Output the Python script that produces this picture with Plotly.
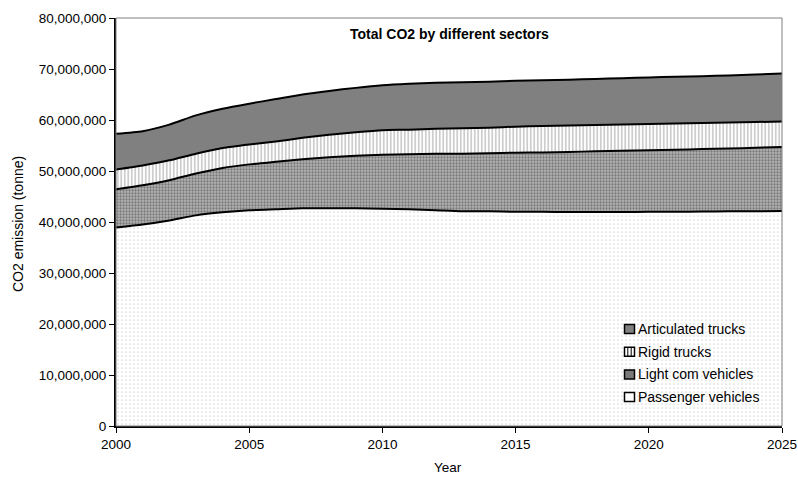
import plotly.graph_objects as go

# Annual CO2 emissions by road-transport sector (tonnes)
years = list(range(2000, 2026))

passenger_vehicles = [
    38_900_000, 39_500_000, 40_300_000, 41_300_000, 41_900_000, 42_300_000,
    42_500_000, 42_700_000, 42_700_000, 42_700_000, 42_600_000, 42_500_000,
    42_300_000, 42_100_000, 42_100_000, 42_000_000, 42_000_000, 41_950_000,
    41_950_000, 41_950_000, 42_000_000, 42_000_000, 42_050_000, 42_100_000,
    42_100_000, 42_150_000,
]
light_com_vehicles = [
    7_500_000, 7_700_000, 7_900_000, 8_200_000, 8_700_000, 9_000_000,
    9_300_000, 9_600_000, 10_000_000, 10_300_000, 10_600_000, 10_800_000,
    11_100_000, 11_300_000, 11_400_000, 11_600_000, 11_650_000, 11_800_000,
    11_900_000, 12_000_000, 12_050_000, 12_150_000, 12_250_000, 12_300_000,
    12_450_000, 12_550_000,
]
rigid_trucks = [
    3_900_000, 3_900_000, 3_900_000, 3_900_000, 3_900_000, 3_900_000,
    4_000_000, 4_200_000, 4_400_000, 4_600_000, 4_800_000, 4_800_000,
    4_900_000, 5_000_000, 5_000_000, 5_100_000, 5_150_000, 5_150_000,
    5_150_000, 5_150_000, 5_150_000, 5_150_000, 5_100_000, 5_100_000,
    5_050_000, 5_000_000,
]
articulated_trucks = [
    7_000_000, 6_700_000, 7_000_000, 7_500_000, 7_700_000, 8_000_000,
    8_300_000, 8_500_000, 8_600_000, 8_700_000, 8_800_000, 9_000_000,
    9_000_000, 9_000_000, 9_000_000, 9_000_000, 9_000_000, 9_000_000,
    9_050_000, 9_100_000, 9_150_000, 9_200_000, 9_200_000, 9_250_000,
    9_300_000, 9_400_000,
]

series_names = ["Passenger vehicles", "Light com vehicles", "Rigid trucks", "Articulated trucks"]
x_ticks = [2000, 2005, 2010, 2015, 2020, 2025]
y_ticks = list(range(0, 80_000_001, 10_000_000))

FONT = "Liberation Sans, Arial, sans-serif"

fills = {
    "Passenger vehicles": dict(shape=".", size=4, solidity=0.15, fgcolor="#b8b8b8", bgcolor="white"),
    "Light com vehicles": dict(shape=".", size=3, solidity=0.45, fgcolor="#3c3c3c", bgcolor="#b4b4b4"),
    "Rigid trucks": dict(shape="|", size=3.5, solidity=0.35, fgcolor="#707070", bgcolor="white"),
    "Articulated trucks": None,
}
values = {
    "Passenger vehicles": passenger_vehicles,
    "Light com vehicles": light_com_vehicles,
    "Rigid trucks": rigid_trucks,
    "Articulated trucks": articulated_trucks,
}

fig = go.Figure()
for name in series_names:
    kw = dict(
        x=years, y=values[name], name=name, mode="lines", stackgroup="one",
        line=dict(color="black", width=2, shape="spline", smoothing=0.6),
        showlegend=False, hoverinfo="x+y+name",
    )
    if fills[name] is None:
        kw["fillcolor"] = "#808080"
    else:
        kw["fillcolor"] = "white"
        kw["fillpattern"] = fills[name]
    fig.add_trace(go.Scatter(**kw))

# Plot-area frame (top/right in grey)
shapes = [dict(type="rect", xref="paper", yref="paper", x0=0, x1=1, y0=0, y1=1,
               line=dict(color="#808080", width=1), layer="above")]

W, H = 798, 481
ml, mr, mt, mb = 116, 16, 18, 55
pw, ph = W - ml - mr, H - mt - mb

def px_to_paper(xp, yp):
    return (xp - ml) / pw, 1 - (yp - mt) / ph

# Legend, drawn in the lower-right corner of the plot area
legend_order = ["Articulated trucks", "Rigid trucks", "Light com vehicles", "Passenger vehicles"]
swatch_fill = {
    "Articulated trucks": "#808080",
    "Rigid trucks": "white",
    "Light com vehicles": "#7a7a7a",
    "Passenger vehicles": "white",
}
annotations = []
for i, name in enumerate(legend_order):
    cy = 329 + i * 22.7
    x0, y0 = px_to_paper(624.5, cy - 4.5)
    x1, y1 = px_to_paper(634.5, cy + 4.5)
    shapes.append(dict(type="rect", xref="paper", yref="paper", x0=x0, x1=x1, y0=y1, y1=y0,
                       fillcolor=swatch_fill[name], line=dict(color="black", width=1.5), layer="above"))
    if name == "Rigid trucks":
        for lx in (627.8, 631.2):
            a0, b0 = px_to_paper(lx, cy - 4.5)
            a1, b1 = px_to_paper(lx, cy + 4.5)
            shapes.append(dict(type="line", xref="paper", yref="paper", x0=a0, x1=a1, y0=b0, y1=b1,
                               line=dict(color="black", width=1), layer="above"))
    tx, ty = px_to_paper(636, cy)
    annotations.append(dict(text=name, xref="paper", yref="paper", x=tx, y=ty,
                            xanchor="left", yanchor="middle", showarrow=False,
                            font=dict(family=FONT, size=14, color="black")))

# Chart title inside the plot area
annotations.append(dict(text="<b>Total CO2 by different sectors</b>", xref="paper", yref="paper",
                        x=0.5, y=px_to_paper(0, 34)[1], xanchor="center", yanchor="middle",
                        showarrow=False, font=dict(family=FONT, size=14, color="black")))

# Axis titles
yx, yy = px_to_paper(18, 224)
annotations.append(dict(text="CO2 emission (tonne)", xref="paper", yref="paper", x=yx, y=yy,
                        xanchor="center", yanchor="middle", textangle=-90, showarrow=False,
                        font=dict(family=FONT, size=14, color="black")))
xx, xy = px_to_paper(448, 467)
annotations.append(dict(text="Year", xref="paper", yref="paper", x=xx, y=xy,
                        xanchor="center", yanchor="middle", showarrow=False,
                        font=dict(family=FONT, size=13.5, color="black")))

fig.update_layout(
    width=W, height=H,
    margin=dict(l=ml, r=mr, t=mt, b=mb, autoexpand=False),
    paper_bgcolor="white", plot_bgcolor="white",
    font=dict(family=FONT, size=13.5, color="black"),
    showlegend=False,
    shapes=shapes, annotations=annotations,
    xaxis=dict(
        range=[2000, 2025], tickvals=x_ticks, ticktext=[str(v) for v in x_ticks],
        showgrid=False, zeroline=False, showline=True, linecolor="black", linewidth=2,
        ticks="outside", ticklen=5, tickcolor="black", tickwidth=1, automargin=False,
        tickfont=dict(family=FONT, size=13.5),
    ),
    yaxis=dict(
        range=[0, 80_000_000], tickvals=y_ticks, tickformat=",",
        showgrid=False, zeroline=False, showline=True, linecolor="black", linewidth=2,
        ticks="outside", ticklen=5, tickcolor="black", tickwidth=1, automargin=False,
        tickfont=dict(family=FONT, size=13.5),
    ),
)

fig.write_html("out.html")
